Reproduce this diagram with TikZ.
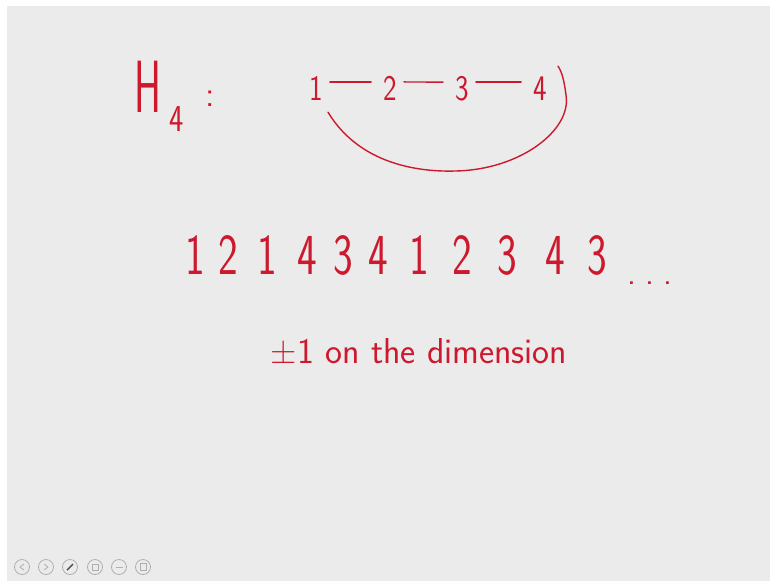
\documentclass[tikz,border=0pt]{standalone}
\usepackage{fontspec}
\newcommand\thinfont{\sffamily}
\definecolor{slidegray}{RGB}{235,235,235}
\definecolor{ink}{RGB}{205,25,45}
\definecolor{icongray}{RGB}{175,175,175}
\begin{document}
\begin{tikzpicture}[x=1pt,y=-1pt,
  hw/.style={text=ink, inner sep=0pt, anchor=base},
  edge/.style={draw=ink, line width=1.4pt, line cap=round},
  icon/.style={circle, draw=icongray, line width=0.8pt, minimum size=15pt, inner sep=0pt},
  glyph/.style={draw=icongray, line width=0.8pt}]
\useasboundingbox (0,0) rectangle (770,581);
\fill[white] (0,0) rectangle (770,581);
\fill[slidegray] (7,6) rectangle (770,581);
% H_4 :
\node[hw, xscale=0.55, font=\thinfont\fontsize{74}{74}\selectfont] (H) at (148,112) {H};
\node[hw, xscale=0.8, font=\thinfont\fontsize{38}{38}\selectfont] (sub) at (177,131) {4};
\node[hw, font=\thinfont\fontsize{36}{36}\selectfont] (colon) at (210,106) {:};
% graph
\foreach \i/\x in {1/316,2/390,3/462,4/540}
  \node[hw, xscale=0.8, font=\thinfont\fontsize{36}{36}\selectfont] (n\i) at (\x,100) {\i};
\foreach \a/\b in {1/2,2/3,3/4}
  \draw[edge, shorten <=7pt, shorten >=12pt] ([yshift=6pt]n\a.east) -- ([yshift=6pt]n\b.west);
\draw[edge] ([xshift=12pt,yshift=-12pt]n1.south) .. controls (360,165) and (420,172) .. (455,171)
  .. controls (520,170) and (572,130) .. (566,95)
  .. controls (564,80) and (562,72) .. ([xshift=18pt,yshift=10pt]n4.north);
% sequence
\foreach \d/\x [count=\k] in {1/195,2/228,1/267,4/307,3/343,4/378,1/419,2/462,3/507,4/555,3/597}
  \node[hw, xscale=0.72, font=\thinfont\fontsize{58}{58}\selectfont] (s\k) at (\x,274) {\d};
\node[hw, font=\thinfont\fontsize{34}{34}\selectfont] (dots) at (650,284) {.\hspace{9pt}.\hspace{9pt}.};
% remark
\node[hw, font=\thinfont\fontsize{36}{36}\selectfont] (remark) at (419,363) {±1 on the dimension};
% icons
\foreach \x [count=\k] in {22,46,70,95,119,143}
  \node[icon] (i\k) at (\x,567) {};
\draw[glyph] ([xshift=2pt,yshift=3pt]i1.center) -- ([xshift=-2pt]i1.center) -- ([xshift=2pt,yshift=-3pt]i1.center);
\draw[glyph] ([xshift=-2pt,yshift=3pt]i2.center) -- ([xshift=2pt]i2.center) -- ([xshift=-2pt,yshift=-3pt]i2.center);
\draw[glyph, line width=1.4pt, draw=black!70] ([xshift=-3pt,yshift=-3pt]i3.center) -- ([xshift=3pt,yshift=3pt]i3.center);
\draw[glyph] ([xshift=-3pt,yshift=-3pt]i4.center) rectangle ([xshift=3pt,yshift=3pt]i4.center);
\draw[glyph] ([xshift=-3.5pt]i5.center) -- ([xshift=3.5pt]i5.center);
\draw[glyph] ([xshift=-3pt,yshift=-3pt]i6.center) rectangle ([xshift=3pt,yshift=4pt]i6.center);
\end{tikzpicture}
\end{document}
